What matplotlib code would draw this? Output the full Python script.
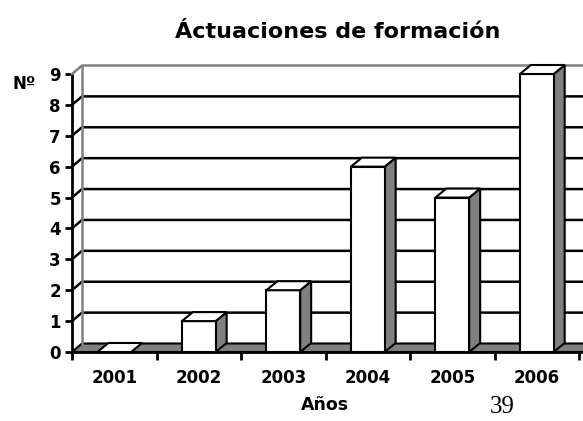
import numpy as np
import matplotlib
matplotlib.use('Agg')
import matplotlib.pyplot as plt
from matplotlib.patches import Polygon

years = ['2001', '2002', '2003', '2004', '2005', '2006']
actuaciones = [0, 1, 2, 6, 5, 9]
yticks = list(range(0, 10))

plt.rcParams['font.family'] = ['DejaVu Sans']

fig = plt.figure(figsize=(5.83, 4.21), dpi=100)
ax = fig.add_axes([72/583, 69/421, 511/583, 278/421])
ax.set_xlim(-0.5, 5.547)
ax.set_ylim(0, 9)

# depth offsets in pixels (x right, y up)
wall_d = (10, 8.5)
bar_d = (11, 9)
gray = '#808080'


def pix(x, y, d=(0, 0)):
    px, py = ax.transData.transform((x, y))
    return (px + d[0], py + d[1])


def poly(pts, fc, z, lw=1.5, ec='black'):
    p = Polygon(pts, closed=True, facecolor=fc, edgecolor=ec, lw=lw,
                transform=None, zorder=z, clip_on=False)
    fig.add_artist(p)


x = np.arange(len(years))
xr = 6.2

# floor
poly([pix(-0.5, 0), pix(xr, 0), pix(xr, 0, wall_d), pix(-0.5, 0, wall_d)],
     gray, 1)

# back wall grid lines
for v in yticks[1:-1]:
    p0 = pix(-0.5, v)
    p1 = pix(-0.5, v, wall_d)
    p2 = pix(xr, v, wall_d)
    fig.add_artist(plt.Line2D([p0[0], p1[0], p2[0]], [p0[1], p1[1], p2[1]],
                              color='black', lw=1.8, transform=None, zorder=2))
# top edge and side wall edge (gray)
p0 = pix(-0.5, 9)
p1 = pix(-0.5, 9, wall_d)
p2 = pix(xr, 9, wall_d)
p3 = pix(-0.5, 0, wall_d)
fig.add_artist(plt.Line2D([p0[0], p1[0], p2[0]], [p0[1], p1[1], p2[1]],
                          color=gray, lw=1.8, transform=None, zorder=2))
fig.add_artist(plt.Line2D([p1[0], p3[0]], [p1[1], p3[1]],
                          color=gray, lw=1.8, transform=None, zorder=2))

# bars with 3D faces
w = 0.4
for xi, v in zip(x, actuaciones):
    l, r = xi - w/2, xi + w/2
    if v > 0:
        poly([pix(r, 0), pix(r, v), pix(r, v, bar_d), pix(r, 0, bar_d)],
             gray, 3)
        poly([pix(l, 0), pix(r, 0), pix(r, v), pix(l, v)], 'white', 4)
    poly([pix(l, v), pix(r, v), pix(r, v, bar_d), pix(l, v, bar_d)],
         'white', 4)

# axes styling
for s in ['top', 'right']:
    ax.spines[s].set_visible(False)
ax.spines['left'].set_linewidth(2)
ax.spines['bottom'].set_linewidth(2)
ax.spines['left'].set_zorder(5)
ax.spines['bottom'].set_zorder(5)
ax.patch.set_visible(False)

ax.set_yticks(yticks)
ax.set_yticklabels([str(t) for t in yticks], fontsize=12, fontweight='bold')
ax.tick_params(axis='y', length=5, width=2, pad=3)

ax.set_xticks(np.arange(-0.5, 6, 1))
ax.set_xticklabels([])
ax.tick_params(axis='x', which='major', length=6, width=2)
ax.set_xticks(x, minor=True)
ax.set_xticklabels(years, minor=True, fontsize=12, fontweight='bold')
ax.tick_params(axis='x', which='minor', length=0, pad=12)

fig.text(338/583, 1 - 37.5/421, 'Áctuaciones de formación', ha='center',
         va='baseline', fontsize=16, fontweight='bold')
fig.text(325/583, 1 - 410/421, 'Años', ha='center', va='baseline',
         fontsize=12.5, fontweight='bold')
fig.text(24/583, 1 - 84/421, 'Nº', ha='center', va='center',
         fontsize=12, fontweight='bold')
fig.text(502/583, 1 - 413/421, '39', ha='center', va='baseline',
         fontsize=18, family='Liberation Serif')

fig.savefig('out.png', dpi=100, facecolor='w')
